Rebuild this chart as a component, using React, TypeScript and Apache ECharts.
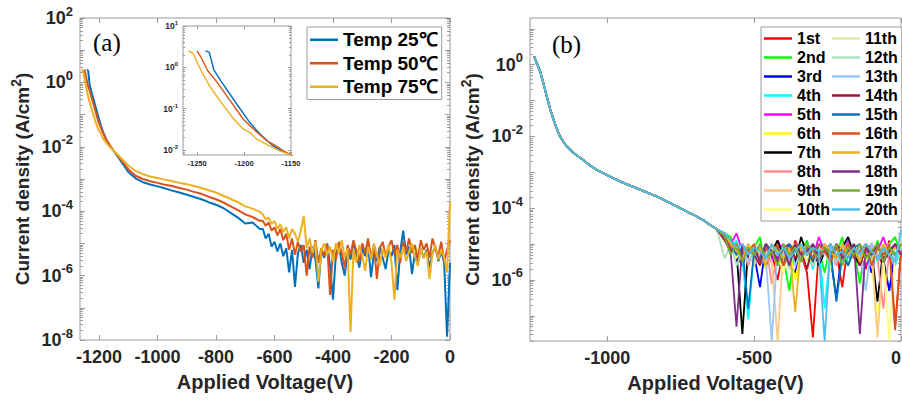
import React, { useEffect, useRef } from 'react';
import * as echarts from 'echarts';

const FONT = '"Liberation Sans", Arial, Helvetica, sans-serif';

// ---------------- Panel (a): temperature dependence (log10 of current density, A/cm^2) ----------------
const tempNames = ['Temp 25℃', 'Temp 50℃', 'Temp 75℃'];

const voltHead25 = [-1241, -1237, -1232, -1224, -1208, -1194, -1183, -1169, -1160];
const log10JHead25 = [0.40, 0.36, -0.07, -0.35, -0.88, -1.33, -1.61, -1.90, -2.02];
const voltHead50 = [-1250, -1246, -1239, -1229, -1215, -1201, -1190, -1176, -1166, -1158];
const log10JHead50 = [0.40, 0.25, -0.07, -0.35, -0.80, -1.25, -1.49, -1.77, -1.90, -2.02];
const voltHead75 = [-1259, -1254, -1246, -1236, -1222, -1211, -1201, -1194, -1187, -1173, -1162];
const log10JHead75 = [0.40, 0.33, -0.07, -0.48, -0.92, -1.25, -1.49, -1.57, -1.73, -1.90, -2.02];

const voltTailA = [
  -1150, -1125, -1100, -1075, -1050, -1025, -1000, -975, -950, -925, -900, -875, -850, -825, -800, -775, -750, -725, -700, -675, -650,
  -640, -630, -620, -610, -600, -590, -580, -570, -560, -550, -540, -530, -520,
  -510, -500, -490, -480, -470, -460, -450, -440, -430, -420, -410, -400, -390,
  -380, -370, -360, -350, -340, -330, -320, -310, -300, -290, -280, -270, -260,
  -250, -240, -230, -220, -210, -200, -190, -180, -170, -160, -150, -140, -130,
  -120, -110, -100, -90, -80, -70, -60, -50, -40, -30, -20, -10, 0,
];
const log10JTail25 = [
  -2.12, -2.45, -2.78, -2.98, -3.10, -3.17, -3.23, -3.29, -3.36, -3.42, -3.49, -3.56, -3.63, -3.72, -3.80, -3.90, -4.05, -4.20, -4.38, -4.35, -4.55,
  -4.55, -4.85, -4.70, -5.10, -4.95, -5.25, -5.00, -5.40, -5.15, -5.90, -5.20, -6.35, -5.30,
  -5.05, -5.60, -5.20, -5.80, -5.10, -5.50, -6.40, -5.20, -5.45, -5.00, -5.70, -6.75, -5.30,
  -5.10, -5.60, -6.00, -5.25, -5.50, -4.95, -5.35, -5.75, -5.15, -5.40, -5.05, -6.05, -5.30,
  -5.55, -5.10, -5.45, -5.80, -5.20, -5.40, -5.05, -6.45, -5.25, -4.60, -5.35, -5.10, -5.95,
  -5.30, -5.60, -5.15, -5.45, -5.20, -5.75, -5.30, -5.10, -5.55, -5.25, -5.60, -7.90, -5.60,
];
const log10JTail50 = [
  -2.12, -2.40, -2.70, -2.90, -3.00, -3.07, -3.12, -3.18, -3.22, -3.28, -3.33, -3.40, -3.46, -3.55, -3.63, -3.73, -3.85, -3.97, -4.10, -4.18, -4.30,
  -4.30, -4.45, -4.35, -4.60, -4.50, -4.75, -4.55, -4.90, -4.70, -5.20, -4.85, -5.35, -4.95,
  -5.25, -5.05, -6.00, -5.10, -5.45, -4.90, -5.60, -5.15, -5.40, -5.00, -6.60, -5.20, -5.50,
  -4.95, -5.30, -5.75, -5.05, -5.35, -4.90, -5.25, -5.55, -5.00, -5.30, -4.85, -5.45, -5.05,
  -6.10, -5.15, -4.95, -5.40, -5.10, -4.90, -5.35, -5.05, -5.60, -4.95, -5.25, -4.85, -5.30,
  -5.05, -5.50, -4.90, -5.20, -5.00, -5.45, -4.85, -5.15, -5.40, -4.95, -5.55, -5.20, -4.90,
];
const log10JTail75 = [
  -2.12, -2.35, -2.58, -2.75, -2.85, -2.92, -2.97, -3.02, -3.07, -3.12, -3.16, -3.22, -3.28, -3.35, -3.42, -3.52, -3.62, -3.72, -3.85, -3.92, -4.02,
  -4.10, -4.25, -4.20, -4.40, -4.30, -4.55, -4.40, -4.65, -4.50, -4.85, -4.55, -4.70, -4.95,
  -4.60, -4.15, -5.15, -4.85, -5.30, -4.95, -6.20, -5.20, -5.00, -5.35, -5.10, -5.55, -5.00,
  -5.30, -4.90, -5.45, -5.15, -7.75, -5.20, -5.60, -5.05, -5.40, -5.85, -5.10, -5.50, -5.00,
  -5.35, -5.70, -5.15, -5.45, -5.05, -5.60, -6.75, -5.20, -5.45, -5.10, -5.55, -5.25, -5.00,
  -5.40, -5.70, -5.15, -5.45, -5.25, -6.10, -5.30, -5.05, -5.50, -5.20, -5.45, -5.90, -3.70,
];

// ---------------- Panel (b): 20 repeated sweeps ----------------
const cycleNames = ['1st', '2nd', '3rd', '4th', '5th', '6th', '7th', '8th', '9th', '10th',
  '11th', '12th', '13th', '14th', '15th', '16th', '17th', '18th', '19th', '20th'];

const voltDecayB = [-1249, -1240, -1229, -1218, -1206, -1195, -1183, -1172, -1161, -1145, -1127, -1105, -1081, -1060,
  -1036, -1000, -968, -935, -900, -866, -832, -800, -764, -730, -696, -673, -651, -628];
const log10JDecayB = [0.23, 0.05, -0.18, -0.50, -0.88, -1.22, -1.53, -1.78, -2.00, -2.20, -2.37, -2.52, -2.66, -2.80,
  -2.93, -3.08, -3.21, -3.33, -3.44, -3.56, -3.67, -3.80, -3.95, -4.09, -4.23, -4.33, -4.46, -4.58];

const voltTailB = [-600, -580, -560, -540, -520, -500, -480, -460, -440, -420, -400, -380, -360, -340, -320, -300,
  -280, -260, -240, -220, -200, -180, -160, -140, -120, -100, -80, -60, -40, -20, 0];

const tailB01 = [-4.7, -4.9, -5.1, -5.3, -5.0, -5.6, -5.1, -5.4, -5.2, -6.0, -5.1, -5.5, -4.9, -5.3, -5.8, -7.6, -5.2, -5.0, -5.5, -5.2, -6.2, -5.0, -5.4, -5.1, -5.7, -5.0, -5.3, -5.6, -4.9, -7.3, -5.2];
const tailB02 = [-4.7, -4.8, -5.2, -5.0, -5.5, -5.1, -4.8, -5.7, -5.2, -5.0, -5.4, -6.3, -5.0, -5.2, -4.9, -5.5, -5.1, -5.8, -5.0, -5.3, -4.8, -5.6, -5.2, -6.1, -5.0, -5.4, -4.9, -5.3, -5.0, -4.8, -5.3];
const tailB03 = [-4.8, -5.0, -5.3, -5.6, -5.1, -5.3, -6.2, -5.0, -5.4, -5.2, -5.0, -5.5, -5.8, -5.1, -5.3, -5.0, -5.6, -5.2, -5.4, -6.5, -5.1, -5.3, -5.0, -5.5, -5.2, -5.8, -5.0, -5.4, -6.3, -5.2, -5.0];
const tailB04 = [-4.7, -5.1, -4.9, -5.4, -7.1, -5.2, -5.1, -5.3, -5.0, -5.6, -5.2, -5.0, -5.5, -5.3, -5.1, -5.7, -5.0, -6.8, -5.2, -5.0, -5.6, -5.3, -5.1, -5.4, -5.2, -5.0, -5.5, -5.2, -5.0, -5.6, -5.1];
const tailB05 = [-4.8, -5.0, -4.7, -5.2, -5.4, -5.0, -5.3, -5.1, -5.5, -4.9, -5.2, -5.6, -5.0, -5.3, -5.1, -5.4, -4.8, -5.2, -5.5, -5.0, -5.3, -4.9, -5.4, -5.1, -5.6, -5.0, -5.2, -4.8, -5.3, -5.1, -5.0];
const tailB06 = [-4.8, -5.2, -5.0, -5.5, -5.1, -5.4, -5.0, -5.7, -5.2, -5.0, -5.4, -5.1, -6.0, -5.2, -5.5, -5.0, -5.3, -5.1, -5.6, -5.0, -5.4, -5.2, -5.0, -5.5, -5.1, -5.3, -7.5, -5.0, -5.2, -5.4, -5.0];
const tailB07 = [-4.8, -5.0, -5.2, -7.5, -5.1, -5.3, -5.0, -5.6, -5.2, -4.9, -5.4, -5.1, -5.5, -4.8, -5.3, -5.0, -5.6, -5.2, -5.0, -5.4, -5.1, -4.8, -5.3, -5.6, -5.0, -5.2, -6.6, -5.1, -5.4, -5.0, -5.2];
const tailB08 = [-4.8, -5.1, -5.3, -5.0, -5.6, -5.2, -5.4, -5.0, -6.1, -5.3, -5.1, -5.5, -5.0, -5.3, -5.7, -5.1, -5.4, -5.0, -5.2, -5.6, -5.1, -5.3, -5.0, -5.5, -5.2, -5.0, -5.4, -6.8, -5.2, -5.0, -5.3];
const tailB09 = [-4.8, -5.2, -5.0, -5.4, -5.1, -5.6, -5.2, -5.0, -5.5, -7.7, -5.1, -5.3, -5.0, -5.4, -5.2, -5.6, -5.0, -5.3, -5.1, -5.5, -5.0, -5.2, -5.4, -5.0, -5.3, -5.1, -7.6, -5.2, -5.0, -5.4, -5.1];
const tailB10 = [-4.7, -5.0, -5.3, -5.1, -5.5, -5.0, -5.2, -5.4, -5.0, -5.3, -5.8, -5.1, -5.0, -5.4, -5.2, -5.0, -5.5, -5.1, -5.3, -5.0, -5.6, -5.2, -5.0, -5.3, -5.5, -5.1, -5.0, -5.4, -7.7, -5.2, -5.0];
const tailB11 = [-4.8, -5.1, -5.4, -5.0, -5.2, -5.5, -5.0, -5.3, -5.1, -5.6, -5.0, -5.4, -5.2, -5.0, -5.5, -5.1, -5.3, -5.0, -5.7, -5.2, -5.0, -5.4, -5.1, -5.3, -5.0, -5.6, -5.2, -5.0, -5.3, -5.1, -5.4];
const tailB12 = [-5.4, -5.0, -5.6, -5.2, -5.0, -5.5, -5.1, -5.3, -5.0, -5.4, -5.2, -5.7, -5.0, -5.3, -5.1, -5.5, -5.0, -5.2, -5.4, -5.1, -5.6, -5.0, -5.3, -5.2, -5.0, -5.5, -5.1, -5.3, -5.0, -5.4, -5.2];
const tailB13 = [-4.8, -5.1, -5.3, -5.0, -5.5, -5.2, -5.0, -5.4, -7.7, -5.1, -5.3, -5.0, -5.6, -5.2, -5.0, -5.4, -5.1, -5.3, -5.0, -5.5, -5.2, -5.0, -5.4, -5.1, -6.3, -5.0, -5.3, -5.2, -5.0, -5.5, -5.1];
const tailB14 = [-4.9, -5.2, -5.0, -5.4, -5.1, -5.3, -5.6, -5.0, -5.2, -5.5, -5.1, -5.0, -5.4, -5.2, -5.7, -5.0, -5.3, -5.1, -5.5, -5.0, -5.2, -5.4, -5.0, -5.6, -5.1, -5.3, -5.0, -5.4, -5.2, -5.0, -5.3];
const tailB15 = [-4.8, -5.0, -5.3, -5.1, -6.8, -5.2, -5.4, -5.0, -5.3, -5.1, -5.6, -5.0, -5.2, -5.4, -5.1, -5.5, -5.0, -5.1, -5.2, -6.6, -5.3, -5.6, -5.1, -5.0, -5.4, -5.2, -5.0, -5.5, -5.1, -5.3, -5.0];
const tailB16 = [-4.7, -5.1, -5.0, -5.4, -5.2, -5.0, -5.5, -5.1, -5.3, -5.0, -5.6, -5.2, -5.0, -5.3, -5.1, -5.4, -5.0, -5.2, -5.5, -5.1, -5.3, -5.0, -5.4, -5.2, -5.0, -5.6, -5.1, -5.3, -5.0, -7.4, -5.2];
const tailB17 = [-4.7, -5.0, -5.2, -5.4, -5.0, -5.3, -5.1, -5.6, -5.0, -5.2, -5.4, -5.1, -6.9, -5.0, -5.3, -5.1, -5.5, -5.0, -5.2, -5.4, -5.0, -5.3, -5.1, -5.5, -5.0, -5.2, -5.4, -5.0, -5.3, -5.1, -5.0];
const tailB18 = [-4.8, -5.2, -7.3, -5.0, -5.3, -5.1, -5.5, -5.0, -5.2, -5.4, -5.1, -5.6, -5.0, -5.3, -5.2, -5.0, -5.5, -5.1, -5.3, -5.0, -5.4, -5.2, -5.0, -7.5, -5.1, -5.3, -5.0, -5.5, -5.2, -5.0, -5.3];
const tailB19 = [-4.8, -5.3, -5.0, -5.5, -5.1, -5.3, -5.0, -5.4, -5.2, -5.6, -5.0, -5.3, -5.1, -5.5, -5.0, -5.2, -5.4, -5.1, -5.3, -5.0, -5.6, -5.1, -5.3, -5.0, -5.4, -5.2, -5.0, -5.5, -5.1, -5.3, -5.0];
const tailB20 = [-4.7, -4.9, -5.1, -5.0, -5.3, -5.1, -5.2, -5.4, -5.0, -5.3, -5.1, -5.4, -5.2, -5.0, -5.3, -5.1, -5.2, -7.7, -5.0, -5.3, -5.2, -5.4, -5.1, -5.3, -5.0, -5.2, -5.4, -5.1, -5.3, -5.5, -4.6];

const tailsB = [tailB01, tailB02, tailB03, tailB04, tailB05, tailB06, tailB07, tailB08, tailB09, tailB10,
  tailB11, tailB12, tailB13, tailB14, tailB15, tailB16, tailB17, tailB18, tailB19, tailB20];

// tick labels
const xTicksA = [-1200, -1000, -800, -600, -400, -200, 0];
const yLabelsA = [-8, -6, -4, -2, 0, 2];
const xTicksInset = [-1250, -1200, -1150];
const yLabelsInset = [-2, -1, 0, 1];
const xTicksB = [-1000, -500, 0];
const yLabelsB = [-6, -4, -2, 0];

// ---------------- styles ----------------
const tempColors = ['#0072BD', '#D95319', '#EDB120'];
const cycleColors = ['#FF0000', '#00FF00', '#0000FF', '#00FFFF', '#FF00FF', '#FFFF00', '#000000', '#FF8C8C', '#FDC98A', '#FFFF80',
  '#DCEDA8', '#A8E2BF', '#99C9F5', '#A2142F', '#0072BD', '#D95319', '#EDB120', '#7E2F8E', '#77AC30', '#4DBEEE'];
const BORDER = '#9a9a9a';
const TXT = '#262626';

const pairs = (xs: number[], ys: number[]) => xs.map((x, i) => [x, ys[i]]);

const decades = (lo: number, hi: number) => {
  const out: number[] = [];
  for (let n = Math.ceil(lo); n <= Math.floor(hi); n++) out.push(n);
  return out;
};
const logMinor = (lo: number, hi: number) => {
  const out: number[] = [];
  for (let n = Math.floor(lo); n <= Math.ceil(hi); n++) {
    for (let k = 2; k <= 9; k++) {
      const v = n + Math.log10(k);
      if (v > lo && v < hi) out.push(v);
    }
  }
  return out;
};

const supRich = (big: number, small: number, raise: number) => ({
  b: { fontSize: big, fontWeight: 'bold', fontFamily: FONT, color: TXT },
  s: { fontSize: small, fontWeight: 'bold', fontFamily: FONT, color: TXT, padding: [0, 0, raise, 0] },
});

function buildOption() {
  const dataA = [
    [...pairs(voltHead25, log10JHead25), ...pairs(voltTailA, log10JTail25)],
    [...pairs(voltHead50, log10JHead50), ...pairs(voltTailA, log10JTail50)],
    [...pairs(voltHead75, log10JHead75), ...pairs(voltTailA, log10JTail75)],
  ];
  const dataB = tailsB.map((t) => [...pairs(voltDecayB, log10JDecayB), ...pairs(voltTailB, t)]);

  const xRange = [
    { min: -1265, max: 0 },
    { min: -1265, max: -1150 },
    { min: -1263, max: 0 },
  ];
  const yRange = [
    { min: -8, max: 2 },
    { min: -2.12, max: 1 },
    { min: -7.7, max: 1.3 },
  ];
  const xTicks = [xTicksA, xTicksInset, xTicksB];
  const yLabels = [yLabelsA, yLabelsInset, yLabelsB];
  const tickLen = [5, 3, 5];
  const minorLen = [3, 2, 3];
  const noLine = { show: false, onZero: false };

  const xAxis: any[] = [];
  const yAxis: any[] = [];
  for (let g = 0; g < 3; g++) {
    const inset = g === 1;
    // bottom axis with labels
    xAxis.push({
      type: 'value', gridIndex: g, position: 'bottom', ...xRange[g],
      axisLine: noLine, splitLine: { show: false },
      axisTick: { show: true, inside: true, length: tickLen[g], customValues: xTicks[g], lineStyle: { color: BORDER } },
      axisLabel: {
        show: true, customValues: xTicks[g], formatter: (v: number) => String(v),
        fontSize: inset ? 7.5 : 18, fontWeight: 'bold', color: TXT, fontFamily: FONT, margin: inset ? 4 : 8,
        alignMaxLabel: g === 2 ? 'right' : undefined,
      },
      name: inset ? '' : 'Applied Voltage(V)', nameLocation: 'middle', nameGap: 32,
      nameTextStyle: { fontSize: 20, fontWeight: 'bold', color: TXT, fontFamily: FONT },
    });
    // top mirrored ticks
    xAxis.push({
      type: 'value', gridIndex: g, position: 'top', ...xRange[g],
      axisLine: noLine, splitLine: { show: false }, axisLabel: { show: false },
      axisTick: { show: true, inside: true, length: tickLen[g], customValues: xTicks[g], lineStyle: { color: BORDER } },
    });
    const major = decades(yRange[g].min, yRange[g].max);
    const minor = logMinor(yRange[g].min, yRange[g].max);
    // left with labels
    yAxis.push({
      type: 'value', gridIndex: g, position: 'left', ...yRange[g],
      axisLine: noLine, splitLine: { show: false },
      axisTick: { show: true, inside: true, length: tickLen[g], customValues: major, lineStyle: { color: BORDER } },
      axisLabel: {
        show: true, customValues: yLabels[g], margin: inset ? 5 : 7,
        formatter: (v: number) => `{b|10}{s|${v}}`,
        rich: inset ? supRich(8.5, 6, 6) : supRich(18, 13, 14),
      },
      name: inset ? '' : '{a|Current density (A/cm}{s|2}{a|)}',
      nameLocation: 'middle', nameGap: 44, nameRotate: 90,
      nameTextStyle: {
        rich: {
          a: { fontSize: 19, fontWeight: 'bold', color: TXT, fontFamily: FONT },
          s: { fontSize: 14, fontWeight: 'bold', color: TXT, fontFamily: FONT, padding: [0, 0, 13, 0] },
        },
      },
    });
    // left minor
    yAxis.push({
      type: 'value', gridIndex: g, position: 'left', ...yRange[g],
      axisLine: noLine, splitLine: { show: false }, axisLabel: { show: false },
      axisTick: { show: true, inside: true, length: minorLen[g], customValues: minor, lineStyle: { color: BORDER } },
    });
    // right major
    yAxis.push({
      type: 'value', gridIndex: g, position: 'right', ...yRange[g],
      axisLine: noLine, splitLine: { show: false }, axisLabel: { show: false },
      axisTick: { show: true, inside: true, length: tickLen[g], customValues: major, lineStyle: { color: BORDER } },
    });
    // right minor
    yAxis.push({
      type: 'value', gridIndex: g, position: 'right', ...yRange[g],
      axisLine: noLine, splitLine: { show: false }, axisLabel: { show: false },
      axisTick: { show: true, inside: true, length: minorLen[g], customValues: minor, lineStyle: { color: BORDER } },
    });
  }

  const series: any[] = [];
  tempNames.forEach((name, i) => {
    series.push({
      type: 'line', name, xAxisIndex: 0, yAxisIndex: 0, data: dataA[i], showSymbol: false, symbol: 'none',
      lineStyle: { width: 2, color: tempColors[i] }, itemStyle: { color: tempColors[i] }, silent: true,
    });
  });
  tempNames.forEach((name, i) => {
    series.push({
      type: 'line', name, xAxisIndex: 2, yAxisIndex: 4, data: dataA[i], showSymbol: false, symbol: 'none', clip: true,
      lineStyle: { width: 1.4, color: tempColors[i] }, itemStyle: { color: tempColors[i] }, silent: true,
    });
  });
  cycleNames.forEach((name, i) => {
    series.push({
      type: 'line', name, xAxisIndex: 4, yAxisIndex: 8, data: dataB[i], showSymbol: false, symbol: 'none',
      lineStyle: { width: 1.8, color: cycleColors[i] }, itemStyle: { color: cycleColors[i] }, silent: true,
    });
  });

  const gridBase = { show: true, borderColor: BORDER, borderWidth: 1, backgroundColor: '#fff', containLabel: false, outerBoundsMode: 'none' };

  return {
    animation: false,
    backgroundColor: '#ffffff',
    textStyle: { fontFamily: FONT },
    grid: [
      { ...gridBase, left: 80, top: 18, width: 370, height: 322 },
      { ...gridBase, left: 183, top: 26, width: 108, height: 129 },
      { ...gridBase, left: 530, top: 18, width: 371, height: 323 },
    ],
    xAxis,
    yAxis,
    legend: [
      {
        data: tempNames, orient: 'vertical', left: 307, top: 27, icon: 'rect',
        itemWidth: 28, itemHeight: 2.5, itemGap: 2, padding: [2, 4, 2, 3],
        borderColor: BORDER, borderWidth: 1, backgroundColor: '#fff', selectedMode: false,
        textStyle: { fontSize: 19, fontWeight: 'bold', color: '#000', fontFamily: FONT, lineHeight: 21.5 },
      },
      {
        data: cycleNames, orient: 'vertical', left: 761, top: 27, height: 192, icon: 'rect',
        itemWidth: 28, itemHeight: 2.5, itemGap: 2, padding: [3, 4, 3, 3],
        borderColor: BORDER, borderWidth: 1, backgroundColor: '#fff', selectedMode: false,
        textStyle: { fontSize: 16, fontWeight: 'bold', color: '#000', fontFamily: FONT, lineHeight: 17 },
      },
    ],
    graphic: [
      { type: 'text', left: 93, top: 30, z: 100, style: { text: '(a)', fontSize: 25, fontFamily: '"Liberation Serif", "Times New Roman", serif', fill: '#000' } },
      { type: 'text', left: 552, top: 32, z: 100, style: { text: '(b)', fontSize: 25, fontFamily: '"Liberation Serif", "Times New Roman", serif', fill: '#000' } },
    ],
    series,
  };
}

export default function App() {
  const ref = useRef<HTMLDivElement>(null);
  useEffect(() => {
    if (!ref.current) return;
    const chart = echarts.init(ref.current, undefined, { renderer: 'svg' });
    chart.setOption(buildOption() as any);
    return () => chart.dispose();
  }, []);
  return <div ref={ref} style={{ position: 'absolute', left: 0, top: 0, width: 902, height: 401, background: '#fff' }} />;
}
